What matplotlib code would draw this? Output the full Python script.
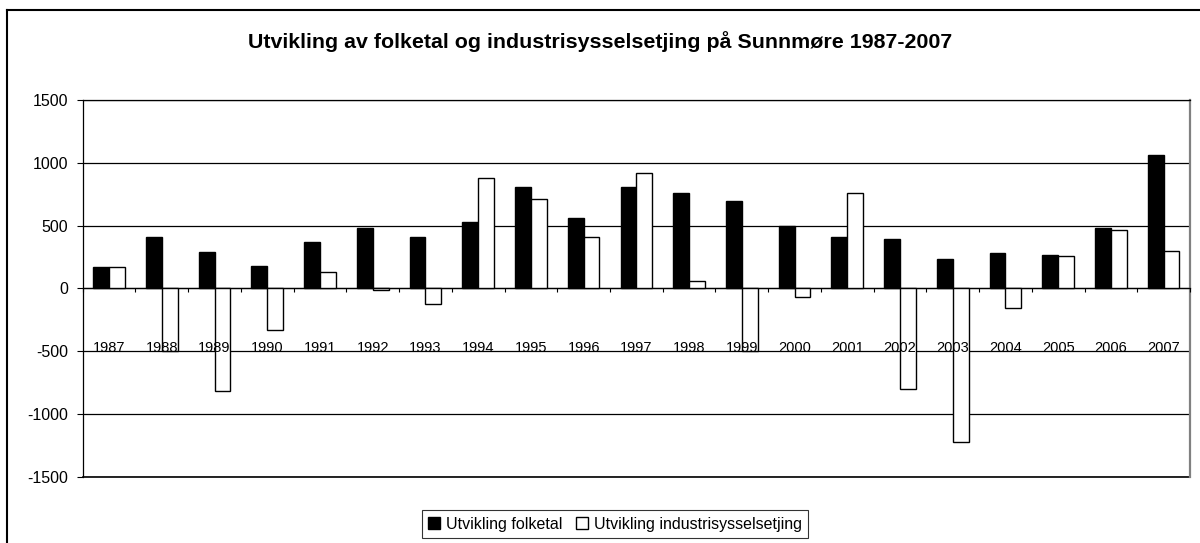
import numpy as np
import matplotlib.pyplot as plt
from matplotlib.lines import Line2D
from matplotlib.patches import Patch

plt.rcParams['font.family'] = ['Liberation Sans', 'DejaVu Sans']
plt.rcParams['axes.unicode_minus'] = False

years = ['1987', '1988', '1989', '1990', '1991', '1992', '1993', '1994', '1995', '1996', '1997',
         '1998', '1999', '2000', '2001', '2002', '2003', '2004', '2005', '2006', '2007']
folketal = [167, 413, 289, 180, 366, 477, 413, 530, 808, 564, 808,
            763, 697, 493, 411, 390, 233, 278, 268, 477, 1060]
industri = [167, -495, -819, -331, 133, -13, -122, 882, 710, 408, 917,
            56, -495, -66, 761, -798, -1224, -156, 257, 464, 297]

fig = plt.figure(figsize=(12, 5.43), dpi=100)
ax = fig.add_axes([0.0689, 0.1221, 0.9228, 0.6937])

x = np.arange(len(years))
w = 0.3
ax.bar(x - w / 2, folketal, w, color='black', edgecolor='black', linewidth=1, zorder=3,
       label='Utvikling folketal')
ax.bar(x + w / 2, industri, w, color='white', edgecolor='black', linewidth=1, zorder=3,
       label='Utvikling industrisysselsetjing')

ax.set_xlim(-0.5, len(years) - 0.5)
ax.set_ylim(-1500, 1500)
ax.set_yticks(np.arange(-1500, 1501, 500))
ax.yaxis.grid(True, color='black', linewidth=0.9)
ax.set_axisbelow(True)
ax.tick_params(axis='y', direction='out', length=4.5, width=0.8, pad=6, labelsize=11.5)
for s in ax.spines.values():
    s.set_color('black')
    s.set_linewidth(0.9)
ax.spines['right'].set_color('#808080')
ax.spines['right'].set_linewidth(1.6)
# bottom border of the plot area (the bottom spine moves to the zero line)
ax.axhline(-1500, color='black', linewidth=1.2, clip_on=False, zorder=2)

# category axis along the zero line, labels drawn over the bars
ax.spines['bottom'].set_position(('data', 0))
ax.set_xticks(x, years)
ax.set_xticks(np.arange(-0.5, len(years), 1), minor=True)
ax.tick_params(axis='x', which='major', length=0, pad=38, labelsize=10.5)
ax.tick_params(axis='x', which='minor', direction='out', length=3, width=0.8)
ax.xaxis.set_zorder(5)

fig.text(0.5, 0.9227, 'Utvikling av folketal og industrisysselsetjing på Sunnmøre 1987-2007',
         ha='center', va='center', fontsize=15.4, fontweight='bold')

handles = [Patch(facecolor='black', edgecolor='black', label='Utvikling folketal'),
           Patch(facecolor='white', edgecolor='black', label='Utvikling industrisysselsetjing')]
leg = fig.legend(handles=handles, loc='center', bbox_to_anchor=(615 / 1200, 1 - 524 / 543),
                 ncol=2, fontsize=11.5, frameon=True, fancybox=False, handlelength=0.75,
                 handleheight=0.75, handletextpad=0.35, columnspacing=0.9, borderpad=0.4,
                 borderaxespad=0)
leg.get_frame().set_edgecolor('black')
leg.get_frame().set_linewidth(0.8)

# outer chart frame (cropped at right and bottom)
fig.add_artist(Line2D([7 / 1200, 7 / 1200], [0, 1 - 10 / 543], transform=fig.transFigure,
                      color='black', linewidth=1.5))
fig.add_artist(Line2D([7 / 1200, 1], [1 - 10 / 543, 1 - 10 / 543], transform=fig.transFigure,
                      color='black', linewidth=1.5))

fig.savefig('out.png', dpi=100)
